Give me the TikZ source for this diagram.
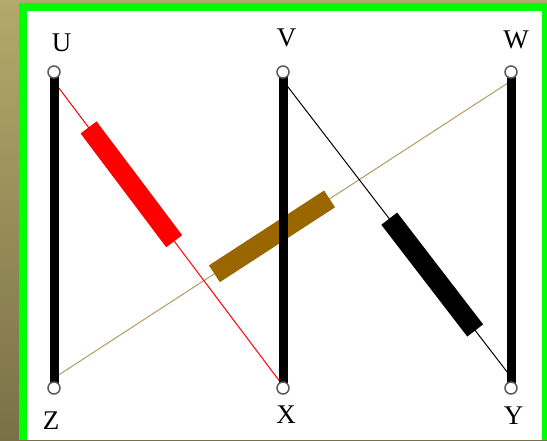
\documentclass[tikz,border=0pt]{standalone}
\usepackage{fontspec}
\setmainfont{Liberation Serif}
\usetikzlibrary{calc}
\definecolor{olivetop}{HTML}{B2AA6A}
\definecolor{olivebot}{HTML}{7A7048}
\definecolor{tanline}{HTML}{B39B68}
\definecolor{brownbar}{HTML}{996600}
\definecolor{ringgray}{HTML}{5A5A5A}
\pgfdeclarelayer{bg}
\pgfsetlayers{bg,main}
\begin{document}
\begin{tikzpicture}[x=1pt,y=-1pt,
  pin/.style={circle,draw=ringgray,line width=1.5pt,fill=white,minimum size=12pt,inner sep=0pt},
  lbl/.style={font=\fontsize{27}{27}\selectfont,inner sep=0pt},
  post/.style={line width=9pt,black},
  wire/.style={line width=1pt},
  slab/.style={line width=20pt}]
\useasboundingbox (0,0) rectangle (547,440);
% terminals
\node[pin] (U) at (54,72) {};
\node[pin] (V) at (283,72) {};
\node[pin] (W) at (511,72) {};
\node[pin] (Z) at (54,388) {};
\node[pin] (X) at (283,388) {};
\node[pin] (Y) at (511,388) {};
% labels
\node[lbl] (lU) at (61.5,43) {U};
\node[lbl] (lV) at (286.5,37.5) {V};
\node[lbl] (lW) at (516,40) {W};
\node[lbl] (lZ) at (51,421) {Z};
\node[lbl] (lX) at (286,415) {X};
\node[lbl] (lY) at (513.5,416) {Y};
% wire end points (hidden behind the posts)
\coordinate (ru) at (54,81.5);
\coordinate (rx) at (283,385.7);
\coordinate (bv) at (283,80.5);
\coordinate (by) at (511,377);
\coordinate (nz) at (54,378);
\coordinate (nw) at (511,81);
\begin{pgfonlayer}{bg}
  \fill[top color=olivetop,bottom color=olivebot] (0,0) rectangle (547,440);
  \fill[green] (19,3) rectangle (547,440);
  \fill[white] (27,11) rectangle (541.5,440);
  % brown resistor
  \draw[wire,tanline] (nz) -- (nw);
  \draw[slab,brownbar] ($(nz)!0.351!(nw)$) -- ($(nz)!0.603!(nw)$);
  % red resistor
  \draw[wire,red] (ru) -- (rx);
  \draw[slab,red] ($(ru)!0.151!(rx)$) -- ($(ru)!0.525!(rx)$);
  % black resistor
  \draw[wire,black] (bv) -- (by);
  \draw[slab,black] ($(bv)!0.466!(by)$) -- ($(bv)!0.843!(by)$);
  % posts
  \draw[post] (U.center) -- (Z.center);
  \draw[post] (V.center) -- (X.center);
  \draw[post] (W.center) -- (Y.center);
\end{pgfonlayer}
\end{tikzpicture}
\end{document}
